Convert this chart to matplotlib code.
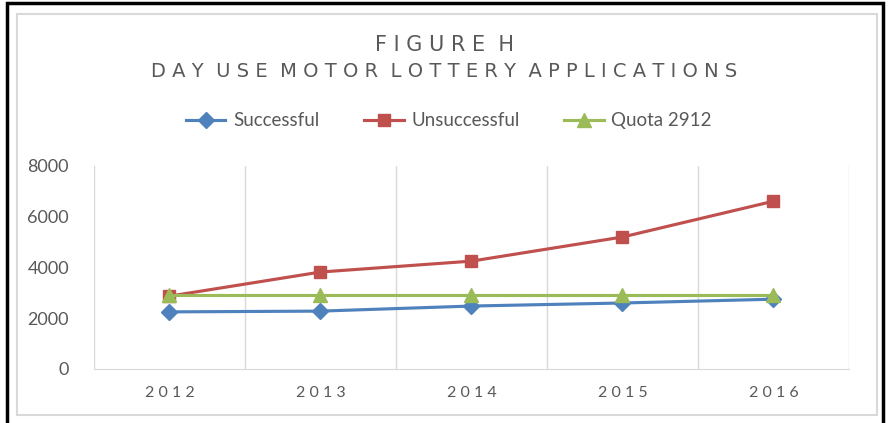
import numpy as np
import matplotlib.pyplot as plt
from matplotlib.patches import Rectangle

# Lottery application data
years = ['2012', '2013', '2014', '2015', '2016']
successful = [2250, 2280, 2480, 2600, 2750]
unsuccessful = [2870, 3820, 4250, 5200, 6610]
quota = [2912, 2912, 2912, 2912, 2912]
x = np.arange(len(years))

plt.rcParams['font.family'] = ['Lato', 'DejaVu Sans']
fig = plt.figure(figsize=(8.89, 4.23), dpi=100)
ax = fig.add_axes([0.1057, 0.1277, 0.8493, 0.48])

# Plot series
plt.plot(x, successful, color='#4f81bd', linewidth=2.25, marker='D', markersize=8, label='Successful')
plt.plot(x, unsuccessful, color='#c0504d', linewidth=2.25, marker='s', markersize=9, label='Unsuccessful')
plt.plot(x, quota, color='#9bbb59', linewidth=2.25, marker='^', markersize=10, label='Quota 2912')

plt.xlim(-0.5, 4.5)
plt.ylim(0, 8000)
plt.yticks([0, 2000, 4000, 6000, 8000], fontsize=13, color='#595959')
plt.xticks(x, [' '.join(y) for y in years], fontsize=11.5, color='#595959')
ax.set_xticks(np.arange(-0.5, 5, 1), minor=True)
ax.tick_params(axis='both', which='both', length=0, pad=12)
ax.tick_params(axis='y', pad=18)
ax.grid(True, which='minor', axis='x', color='#d9d9d9', linewidth=1)
for s in ['top', 'left', 'right']:
    ax.spines[s].set_visible(False)
ax.spines['bottom'].set_color('#d9d9d9')

# Title and legend
fig.text(0.5, 0.893, 'F I G U R E  H', ha='center', va='center', fontsize=15, color='#595959', family='DejaVu Sans')
fig.text(0.5, 0.830, 'D A Y  U S E  M O T O R  L O T T E R Y  A P P L I C A T I O N S', ha='center', va='center', fontsize=14, color='#595959', family='DejaVu Sans')
fig.legend(loc='center', bbox_to_anchor=(0.505, 0.714), ncol=3, frameon=False, fontsize=13.5,
           handlelength=2.1, handletextpad=0.4, columnspacing=2.4, labelcolor='#595959')

# Borders
fig.patches.append(Rectangle((0.019, 0.019), 0.967, 0.948, transform=fig.transFigure, fill=False, edgecolor='#d9d9d9', linewidth=1.5))
fig.patches.append(Rectangle((0.0075, -0.05), 0.986, 1.043, transform=fig.transFigure, fill=False, edgecolor='black', linewidth=2.5))

plt.savefig('out.png', dpi=100)
